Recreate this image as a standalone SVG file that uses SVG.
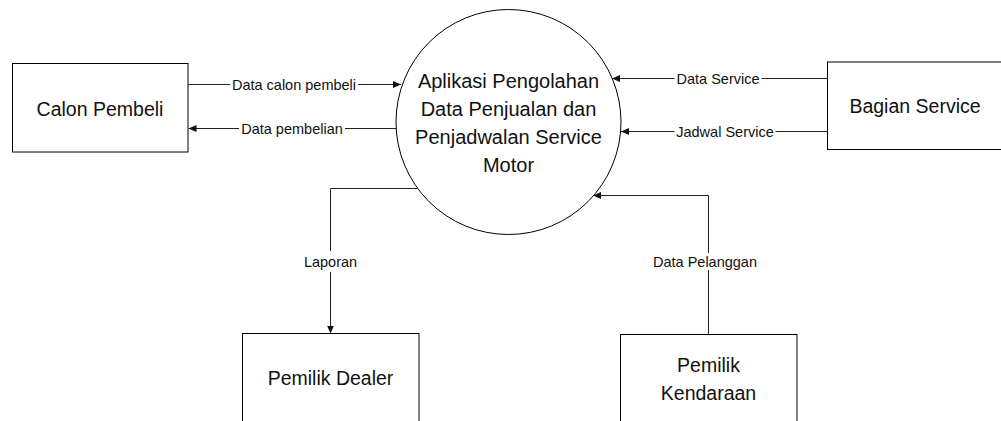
<svg xmlns="http://www.w3.org/2000/svg" width="1001" height="421" viewBox="0 0 1001 421">
  <style>
    .shape { fill: #fff; stroke: #000; stroke-width: 1; }
    .flow { fill: none; stroke: #222; stroke-width: 1; }
    .name { font-family: "Liberation Sans", Arial, sans-serif; font-size: 19.5px; fill: #111; text-anchor: middle; }
    .proc { font-family: "Liberation Sans", Arial, sans-serif; font-size: 20px; fill: #111; text-anchor: middle; }
    .lbl { font-family: "Liberation Sans", Arial, sans-serif; font-size: 14.5px; fill: #111; text-anchor: middle; dominant-baseline: central; }
    .gap { fill: #fff; stroke: none; }
  </style>
  <defs>
    <marker id="arrow" markerUnits="userSpaceOnUse" markerWidth="8" markerHeight="7" refX="8" refY="3.5" orient="auto">
      <path d="M0,0 L8,3.5 L0,7 z" fill="#111"/>
    </marker>
  </defs>
  <rect width="1001" height="421" fill="#fff"/>

  <g id="process">
    <circle class="shape" cx="508.5" cy="122" r="112.5"/>
    <text class="proc" x="508.5" y="88">Aplikasi Pengolahan</text>
    <text class="proc" x="508.5" y="116">Data Penjualan dan</text>
    <text class="proc" x="508.5" y="144">Penjadwalan Service</text>
    <text class="proc" x="508.5" y="172">Motor</text>
  </g>

  <g id="calon-pembeli">
    <rect class="shape" x="12.5" y="63.5" width="175.5" height="88.5"/>
    <text class="name" x="100" y="116">Calon Pembeli</text>
  </g>

  <g id="bagian-service">
    <rect class="shape" x="827.5" y="62" width="190" height="87.5"/>
    <text class="name" x="915" y="113">Bagian Service</text>
  </g>

  <g id="pemilik-dealer">
    <rect class="shape" x="242.5" y="333.5" width="176.5" height="110"/>
    <text class="name" x="330.5" y="385">Pemilik Dealer</text>
  </g>

  <g id="pemilik-kendaraan">
    <rect class="shape" x="620.5" y="334.5" width="176.5" height="110"/>
    <text class="name" x="708.5" y="372">Pemilik</text>
    <text class="name" x="708.5" y="400">Kendaraan</text>
  </g>

  <g id="connectors">
    <path class="flow" d="M188,84.5 H401" marker-end="url(#arrow)"/>
    <rect class="gap" x="230" y="77" width="128" height="15"/>
    <text class="lbl" x="294" y="84.5">Data calon pembeli</text>

    <path class="flow" d="M396.5,128.5 H188.5" marker-end="url(#arrow)"/>
    <rect class="gap" x="239" y="121" width="106" height="15"/>
    <text class="lbl" x="292" y="128.5">Data pembelian</text>

    <path class="flow" d="M827.5,78.5 H612" marker-end="url(#arrow)"/>
    <rect class="gap" x="674.5" y="71" width="87" height="15"/>
    <text class="lbl" x="718" y="78.5">Data Service</text>

    <path class="flow" d="M827.5,131.5 H621" marker-end="url(#arrow)"/>
    <rect class="gap" x="674.5" y="124" width="101" height="15"/>
    <text class="lbl" x="725" y="131.5">Jadwal Service</text>

    <path class="flow" d="M417.5,188.5 H330.5 V333.5" marker-end="url(#arrow)"/>
    <rect class="gap" x="302" y="251" width="57" height="21"/>
    <text class="lbl" x="330.5" y="262">Laporan</text>

    <path class="flow" d="M708.5,334.5 V195.5 H593" marker-end="url(#arrow)"/>
    <rect class="gap" x="653" y="253" width="104" height="17"/>
    <text class="lbl" x="705" y="262">Data Pelanggan</text>
  </g>
</svg>
